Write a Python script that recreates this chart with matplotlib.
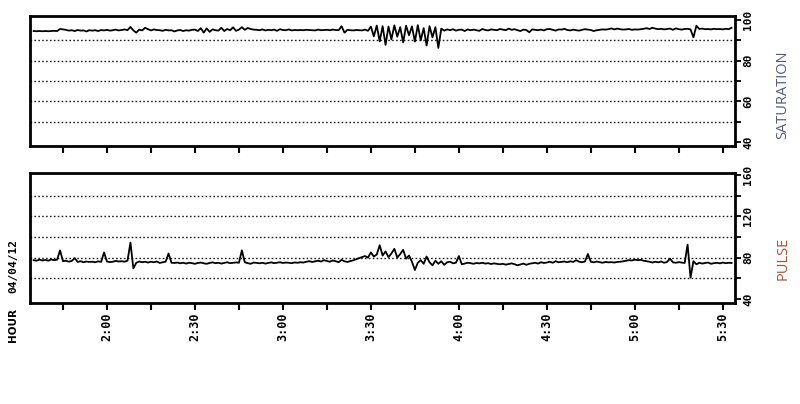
import numpy as np
import matplotlib
matplotlib.use("Agg")
import matplotlib.pyplot as plt
from matplotlib.ticker import FixedLocator

# time in minutes after midnight (one sample per minute, 1:35 .. 5:33)
minutes = np.arange(95, 334)

saturation = [
    94.6, 94.5, 94.6, 94.5, 94.6, 94.5, 94.6, 94.7, 94.6, 95.6,
    95.4, 95.2, 94.8, 95.0, 94.6, 95.1, 94.8, 94.9, 94.4, 95.0,
    94.8, 95.0, 94.6, 95.1, 94.9, 95.2, 94.8, 95.0, 95.3, 94.9,
    95.1, 95.4, 95.0, 96.6, 94.9, 93.8, 95.3, 94.9, 96.2, 95.5,
    94.9, 95.4, 95.1, 95.0, 94.7, 95.2, 94.9, 95.0, 94.4, 94.9,
    95.1, 94.6, 95.0, 94.8, 95.2, 95.3, 94.6, 96.0, 93.8, 95.9,
    94.2, 95.4, 95.0, 94.8, 96.2, 94.6, 95.6, 95.0, 96.4, 94.7,
    95.3, 96.5, 95.2, 96.1, 95.6, 95.3, 95.2, 95.0, 95.4, 94.9,
    95.2, 95.0, 95.3, 94.7, 95.5, 95.1, 95.0, 95.4, 94.9, 95.1,
    95.0, 95.1, 95.0, 95.2, 95.1, 95.0, 94.9, 95.3, 95.0, 95.1,
    95.2, 95.0, 95.3, 95.1, 95.0, 97.0, 93.8, 95.2, 95.0, 94.9,
    95.1, 95.0, 94.9, 95.3, 94.7, 96.8, 92.0, 97.3, 89.5, 97.0,
    87.8, 96.8, 90.5, 97.4, 91.8, 96.5, 89.0, 97.2, 92.5, 96.9,
    89.4, 97.5, 90.0, 96.0, 87.5, 97.0, 91.5, 96.5, 86.3, 95.8,
    94.8, 95.4, 95.0, 95.5, 94.8, 95.2, 95.3, 94.6, 95.4, 95.0,
    95.3, 95.0, 94.7, 95.6, 95.1, 94.9, 95.4, 95.2, 95.0, 95.6,
    95.3, 95.0, 95.8, 95.2, 95.5, 95.0, 94.6, 95.3, 95.1, 94.0,
    95.4, 95.2, 95.0, 95.3, 94.9, 95.5, 95.6, 95.2, 94.8, 95.4,
    95.3, 95.7, 95.1, 94.9, 95.3, 95.0, 94.8, 95.2, 95.5, 95.3,
    95.1, 94.6, 95.0, 95.2, 95.4, 95.3, 95.5, 95.9, 95.4, 95.8,
    95.5, 95.3, 95.4, 95.6, 95.2, 95.4, 95.3, 95.5, 95.7, 96.0,
    95.6, 96.2, 95.8, 95.5, 95.7, 95.4, 95.6, 95.8, 95.2, 95.9,
    95.5, 95.3, 95.6, 95.7, 95.4, 91.5, 97.2, 95.6, 95.8, 95.5,
    95.6, 95.4, 95.7, 95.5, 95.6, 95.4, 95.7, 95.5, 96.2,
]

pulse = [
    77.5, 77.0, 78.0, 77.2, 77.8, 77.0, 78.2, 77.5, 78.0, 87.0,
    76.5, 77.0, 76.0, 76.8, 79.5, 75.8, 76.5, 75.5, 76.2, 75.8,
    76.0, 75.5, 76.4, 75.8, 85.0, 76.2, 75.6, 76.0, 76.8, 76.2,
    76.5, 76.0, 77.0, 94.5, 69.5, 75.0, 76.2, 75.5, 76.0, 75.2,
    76.0, 75.5, 76.2, 74.8, 75.5, 76.0, 84.0, 75.0, 74.8, 75.2,
    74.5, 75.0, 74.2, 75.0, 74.6, 74.0, 74.8, 75.2, 74.5, 74.0,
    74.8, 75.4, 74.6, 75.0, 74.2, 74.8, 75.5, 74.6, 75.0, 75.3,
    75.0, 87.0, 75.5, 74.6, 74.0, 75.2, 74.8, 74.5, 75.0, 74.2,
    74.8, 75.4, 74.6, 75.0, 75.5, 74.8, 75.2, 75.0, 74.6, 75.3,
    75.0, 75.5, 75.2, 76.0, 76.5, 75.8, 76.4, 77.0, 76.2, 77.5,
    76.8, 76.0, 77.2, 76.5, 75.5, 77.8, 76.4, 75.8, 76.6, 77.4,
    78.5, 79.5, 80.5, 81.5, 80.0, 85.0, 81.0, 83.0, 92.0, 82.0,
    86.0, 80.5, 84.0, 88.5, 80.0, 83.5, 87.5, 79.0, 82.0, 76.0,
    68.0, 75.0, 77.5, 74.0, 81.0, 75.5, 72.5, 77.0, 74.0, 76.5,
    73.0, 75.5, 76.0, 74.5, 75.0, 81.5, 73.5, 74.2, 75.0, 74.6,
    74.0, 74.8, 74.4, 75.0, 74.2, 74.6, 73.8, 74.4, 74.0, 73.5,
    74.0, 73.2, 73.8, 74.4, 73.6, 72.5, 73.4, 74.2, 73.0, 74.0,
    74.5, 75.0, 74.2, 75.5, 74.8, 75.2, 76.0, 75.0, 76.5, 75.5,
    75.8, 76.2, 75.5, 76.4, 75.8, 77.5, 76.0, 75.5, 76.2, 83.5,
    76.0, 75.4, 76.2, 75.6, 75.0, 75.8, 75.4, 75.6, 75.2, 75.8,
    76.0, 76.4, 77.0, 77.5, 77.2, 78.0, 77.5, 77.8, 77.0, 76.5,
    76.0, 75.2, 76.0, 75.4, 76.2, 75.0, 75.8, 79.0, 75.4, 75.0,
    75.6, 75.2, 74.8, 92.6, 60.5, 76.5, 73.5, 75.0, 74.2, 74.8,
    75.2, 74.0, 74.6, 75.0, 74.4, 75.2, 74.6, 75.0, 74.8,
]

hour_ticks = [105, 120, 135, 150, 165, 180, 195, 210, 225, 240, 255, 270, 285, 300, 315, 330]
hour_label_pos = [120, 150, 180, 210, 240, 270, 300, 330]
hour_labels = ["2:00", "2:30", "3:00", "3:30", "4:00", "4:30", "5:00", "5:30"]

sat_ticks = [40, 50, 60, 70, 80, 90, 100]
sat_labels = ["40", "", "60", "", "80", "", "100"]
sat_grid = [50, 60, 70, 80, 90]

pulse_ticks = [40, 60, 80, 100, 120, 140, 160]
pulse_labels = ["40", "", "80", "", "120", "", "160"]
pulse_grid = [60, 80, 100, 120, 140]

fig = plt.figure(figsize=(8.0, 4.04), dpi=100)
ax1 = fig.add_axes([0.0375, 0.6386, 0.881, 0.3218])
ax2 = fig.add_axes([0.0375, 0.2500, 0.881, 0.3218])

mono = "DejaVu Sans Mono"

def style(ax, yticks, ylabels, grid, ylim, show_x):
    ax.set_xlim(93.75, 334.1)
    ax.set_ylim(*ylim)
    for s in ax.spines.values():
        s.set_linewidth(2.0)
        s.set_color("black")
    for g in grid:
        ax.axhline(g, color="#222222", linestyle=(0, (1.2, 1.6)), linewidth=1.0, zorder=1)
    ax.yaxis.tick_right()
    ax.set_yticks(yticks)
    ax.set_yticklabels(ylabels, rotation=90, va="center", fontsize=8,
                       fontweight="bold", family=mono)
    ax.tick_params(axis="y", direction="out", length=4, width=1.3, pad=2)
    ax.xaxis.set_major_locator(FixedLocator(hour_ticks))
    ax.tick_params(axis="x", direction="out", length=5, width=1.5, pad=2)
    if show_x:
        ax.set_xticklabels([hour_labels[hour_label_pos.index(t)] if t in hour_label_pos else ""
                            for t in hour_ticks],
                           rotation=90, fontsize=8.5, fontweight="bold", family=mono)
    else:
        ax.set_xticklabels([])

ax1.plot(minutes, saturation, color="black", linewidth=1.3, zorder=3)
ax2.plot(minutes, pulse, color="black", linewidth=1.3, zorder=3)

style(ax1, sat_ticks, sat_labels, sat_grid, (38, 102), False)
style(ax2, pulse_ticks, pulse_labels, pulse_grid, (36, 162), True)

fig.text(0.979, 1 - 95 / 404, "SATURATION", rotation=90, ha="center", va="center",
         fontsize=10.5, color="#4d5d80", family="Open Sans")
fig.text(0.979, 1 - 258 / 404, "PULSE", rotation=90, ha="center", va="center",
         fontsize=10.5, color="#a0583a", family="Open Sans")
fig.text(13 / 800, 1 - 266 / 404, "04/04/12", rotation=90, ha="center", va="center",
         fontsize=8, fontweight="bold", family=mono)
fig.text(13 / 800, 1 - 325 / 404, "HOUR", rotation=90, ha="center", va="center",
         fontsize=7.5, fontweight="bold", family="DejaVu Sans")

fig.savefig("out.png", dpi=100)
